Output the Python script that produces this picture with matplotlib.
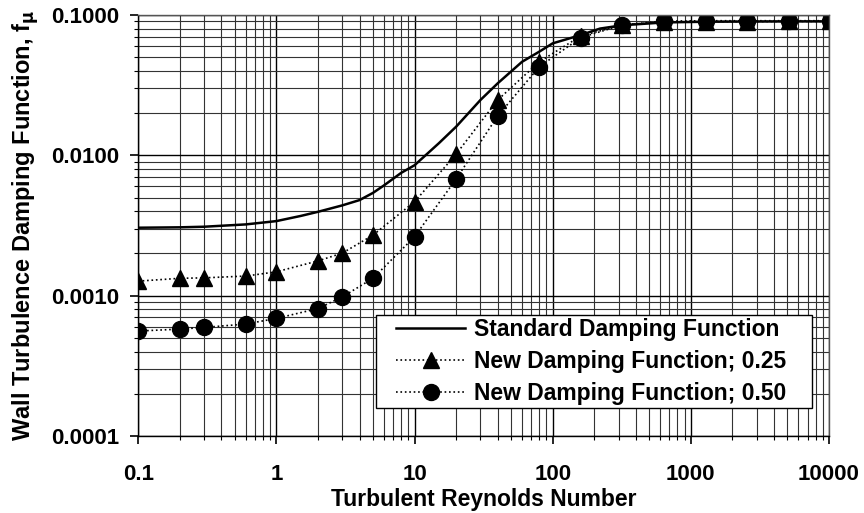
import numpy as np
import matplotlib
matplotlib.use("Agg")
import matplotlib.pyplot as plt
from matplotlib.patches import Rectangle
from matplotlib.ticker import FixedLocator, LogLocator, NullFormatter

plt.rcParams['font.family'] = ['Liberation Sans', 'DejaVu Sans']
plt.rcParams['font.weight'] = 'bold'

# Turbulent Reynolds number sample points (marker series)
re_t = [0.1, 0.2, 0.3, 0.6, 1, 2, 3, 5, 10, 20, 40, 80, 160, 320, 640, 1280, 2560, 5120, 10240]
# denser points along the smooth standard curve
re_std = [0.1, 0.2, 0.3, 0.6, 1, 1.5, 2, 3, 4, 5, 6, 8, 10, 15, 20, 30, 40, 60, 80, 100,
          160, 220, 320, 640, 1280, 2560, 5120, 10240]

# damping function values
f_standard = [0.00305, 0.00307, 0.0031, 0.00322, 0.0034, 0.0037, 0.00396, 0.0044, 0.0048,
              0.0054, 0.0061, 0.0075, 0.0085, 0.0122, 0.016, 0.0248, 0.0326, 0.0464, 0.0548,
              0.0628, 0.072, 0.080, 0.0845, 0.0885, 0.0895, 0.0898, 0.09, 0.09]
f_new_025 = [0.00127, 0.00133, 0.00134, 0.00138, 0.00148, 0.00177, 0.00201, 0.0027, 0.00467,
             0.0102, 0.0248, 0.0464, 0.0709, 0.085, 0.0893, 0.0896, 0.0898, 0.09, 0.09]
f_new_050 = [0.00056, 0.000578, 0.000594, 0.000628, 0.000689, 0.00081, 0.00098, 0.00133, 0.00263,
             0.00678, 0.0191, 0.0428, 0.069, 0.085, 0.0905, 0.091, 0.091, 0.091, 0.091]

fig = plt.figure(figsize=(8.64, 5.13), dpi=100)
ax = fig.add_axes([0.16, 0.150, 0.7995, 0.8208])

ax.plot(re_std, f_standard, '-', color='black', lw=1.8, label='Standard Damping Function')
ax.plot(re_t, f_new_025, ':', color='black', lw=1.2, marker='^', ms=12,
        label='New Damping Function; 0.25')
ax.plot(re_t, f_new_050, ':', color='black', lw=1.2, marker='o', ms=11.5,
        label='New Damping Function; 0.50')

ax.set_xscale('log')
ax.set_yscale('log')
ax.set_xlim(0.1, 10000)
ax.set_ylim(0.0001, 0.1)

ax.xaxis.set_major_locator(FixedLocator([0.1, 1, 10, 100, 1000, 10000]))
ax.xaxis.set_minor_locator(LogLocator(base=10, subs=np.arange(2, 10)))
ax.xaxis.set_minor_formatter(NullFormatter())
ax.set_xticklabels(['0.1', '1', '10', '100', '1000', '10000'])
ax.yaxis.set_major_locator(FixedLocator([0.0001, 0.001, 0.01, 0.1]))
ax.yaxis.set_minor_locator(LogLocator(base=10, subs=np.arange(2, 10)))
ax.yaxis.set_minor_formatter(NullFormatter())
ax.set_yticklabels(['0.0001', '0.0010', '0.0100', '0.1000'])

ax.grid(which='major', color='black', lw=1.0)
ax.grid(which='minor', color='#333333', lw=0.8)
ax.tick_params(which='major', direction='out', length=6, width=1.2, labelsize=16)
ax.tick_params(axis='x', which='major', pad=14)
ax.tick_params(axis='y', which='major', pad=8)
ax.tick_params(which='minor', direction='out', length=3, width=0.8)
for s in ax.spines.values():
    s.set_linewidth(1.0)
    s.set_color('#555555')
ax.spines['left'].set_color('black')
ax.spines['bottom'].set_color('black')

ax.set_xlabel('Turbulent Reynolds Number', fontsize=16.5, fontweight='bold', labelpad=2)
ax.set_ylabel(r'Wall Turbulence Damping Function, f$_{\mathbf{\mu}}$', fontsize=17,
              fontweight='bold', labelpad=7)

# legend box with wide side padding, like the original
box = Rectangle((0.3444, 0.0665), 0.631, 0.221, transform=ax.transAxes, facecolor='white',
                edgecolor='black', lw=1.0, zorder=4)
ax.add_patch(box)
leg = ax.legend(loc='center', bbox_to_anchor=(0.3444 + 0.631 / 2 - 0.004, 0.0665 + 0.221 / 2),
                fontsize=16.5, frameon=False, handlelength=3.0, borderpad=0,
                labelspacing=0.38, handletextpad=0.4, borderaxespad=0)
leg.set_zorder(5)

fig.savefig('out.png', dpi=100)
